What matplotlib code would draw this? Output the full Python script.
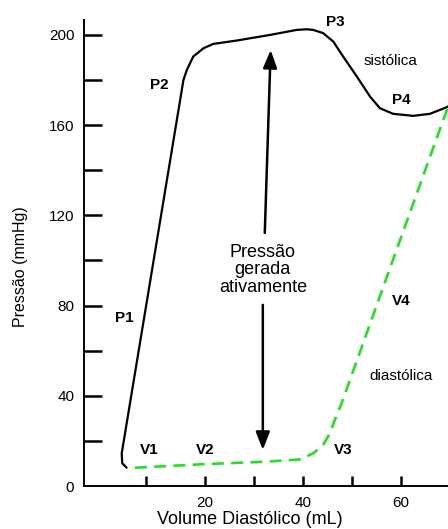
import matplotlib
matplotlib.use("Agg")
import matplotlib.pyplot as plt

plt.rcParams['font.family'] = ['Liberation Sans', 'DejaVu Sans']

# systolic pressure curve (volume mL, pressure mmHg)
sist_vol = [4.0, 3.1, 3.0, 15.6, 16.3, 17.6, 19.7, 21.7, 26.5, 33.3, 38.7,
            40.8, 42.1, 44.1, 46.2, 48.2, 51.0, 53.7, 55.7, 58.4, 62.5, 65.9,
            69.3, 69.6]
sist_p = [8.1, 10.1, 14.5, 180.0, 184.5, 190.4, 194.1, 196.0, 197.5, 200.0,
          202.2, 202.5, 202.2, 200.8, 197.0, 190.4, 181.5, 172.6, 167.5, 165.0,
          164.1, 165.0, 167.9, 168.3]

# diastolic pressure curve
diast_vol = [5.7, 19.0, 32.6, 39.4, 42.1, 44.1, 45.5, 46.5, 47.9, 59.1, 69.6]
diast_p = [8.1, 9.6, 10.8, 11.8, 14.5, 18.2, 23.4, 29.3, 36.8, 104.7, 168.1]

# point labels
p_labels = ["P1", "P2", "P3", "P4"]
p_pos = [(3.5, 74.3), (10.7, 177.8), (46.7, 205.9), (60.1, 171.2)]
v_labels = ["V1", "V2", "V3", "V4"]
v_pos = [(8.6, 16.0), (20.0, 16.0), (48.2, 16.0), (60.1, 82.0)]

fig = plt.figure(figsize=(4.48, 5.29), dpi=100)
ax = fig.add_axes([84/448, 43/529, 364/448, 466/529])

ax.plot(sist_vol, sist_p, color="black", lw=1.6, solid_joinstyle="round",
        solid_capstyle="round")
ax.plot(diast_vol, diast_p, color="#22e022", lw=1.9, linestyle=(0, (4.5, 2.8)))

for lab, (x, y) in zip(p_labels + v_labels, p_pos + v_pos):
    ax.text(x, y, lab, ha="center", va="center", fontsize=11, fontweight="bold")

ax.text(57.8, 188.6, "sistólica", ha="center", va="center", fontsize=11)
ax.text(60.1, 48.8, "diastólica", ha="center", va="center", fontsize=11)
ax.text(31.8, 95.8, "Pressão\ngerada\nativamente", ha="center", va="center",
        fontsize=13, linespacing=1.05)

# double arrow split by the text
arrow = dict(arrowstyle="-|>,head_length=0.9,head_width=0.35", mutation_scale=12,
             lw=1.8, color="black", shrinkA=0, shrinkB=0)
ax.annotate("", xy=(33.4, 193.3), xytext=(32.2, 112.2), arrowprops=arrow)
ax.annotate("", xy=(31.8, 16.0), xytext=(31.8, 80.3), arrowprops=arrow)

ax.set_xlim(-4.7, 69.6)
ax.set_ylim(0, 206.6)

ax.set_yticks(range(0, 201, 20))
ax.set_yticklabels([str(v) if v % 40 == 0 else "" for v in range(0, 201, 20)])
ax.set_xticks([8, 20, 30, 40, 50, 60])
ax.set_xticklabels(["", "20", "", "40", "", "60"])
ax.tick_params(axis="y", direction="in", length=13, width=1.8, pad=7, labelsize=11)
ax.tick_params(axis="x", direction="in", length=7, width=1.8, pad=7, labelsize=11)
ax.yaxis.get_major_ticks()[0].tick1line.set_visible(False)

for side in ["top", "right"]:
    ax.spines[side].set_visible(False)
for side in ["left", "bottom"]:
    ax.spines[side].set_linewidth(1.4)

fig.text(20/448, 1 - 267/529, "Pressão (mmHg)", rotation=90, ha="center",
         va="center", fontsize=11.5)
fig.text(250/448, 1 - 520/529, "Volume Diastólico (mL)", ha="center",
         va="center", fontsize=13)

fig.savefig("out.png", dpi=100)
